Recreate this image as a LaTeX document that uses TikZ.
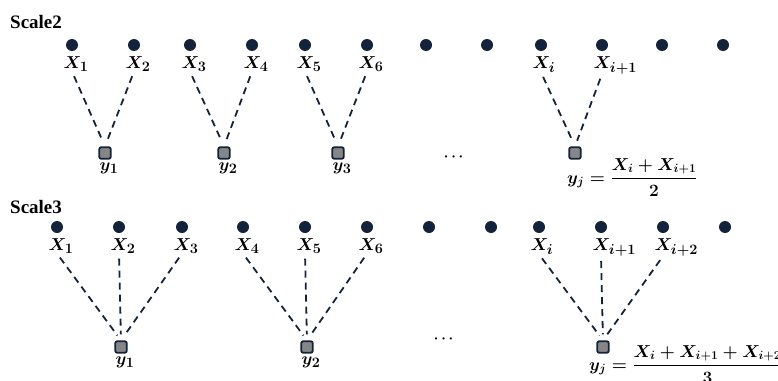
\documentclass[tikz,border=0pt]{standalone}
\usepackage{amsmath,mathtools}
\usepackage{fontspec}
\setmainfont{Liberation Serif}
\usetikzlibrary{positioning}
\DeclareMathSizes{18}{18}{13.5}{10}
\DeclareMathSizes{16}{16}{12}{9}
\definecolor{navy}{HTML}{13233C}
\tikzset{
	xdot/.style={circle, fill=navy, inner sep=0pt, minimum size=12pt},
	ybox/.style={rectangle, rounded corners=2pt, draw=navy, line width=1.8pt,
			fill=gray!95, inner sep=0pt, minimum size=11.5pt},
	conn/.style={draw=navy, line width=1.8pt, dash pattern=on 7pt off 5pt,
			shorten <=5pt, shorten >=6pt},
	xlab/.style={inner sep=0pt, font=\fontsize{18}{21}\selectfont\boldmath},
	flab/.style={inner sep=0pt, anchor=base west, font=\fontsize{16}{19}\selectfont\boldmath},
	scalelab/.style={inner sep=0pt, anchor=base west, font=\fontsize{19}{22}\selectfont\bfseries},
	gap/.style={inner sep=0pt, font=\fontsize{15}{18}\selectfont\boldmath}
}

\begin{document}
\begin{tikzpicture}[x=1pt,y=-1pt]
	\useasboundingbox (0,0) rectangle (778,380);

	% Scale2
	\node[scalelab] (s2) at (10,28) {Scale2};
	\foreach \x [count=\i] in {72,134,190,252,305,367,426,487,541,602,662,723}
		\node[xdot] (a\i) at (\x,45) {};
	\foreach \i/\s in {1/1,2/2,3/3,4/4,5/5,6/6,9/i,10/i+1}
		\node[xlab, anchor=north] (la\i) at ([yshift=-5pt]a\i.south) {$X_{\mathrlap{\s}}$};
	\foreach \x [count=\j] in {105,224,338,575}
		\node[ybox] (ya\j) at (\x,153) {};
	\foreach \j in {1,2,3}
		\node[xlab, anchor=north] (ly\j) at ([yshift=-3pt]ya\j.south) {$y_{\mathrlap{\j}}$};
	\foreach \i/\j in {1/1,2/1,3/2,4/2,5/3,6/3,9/4,10/4}
		\draw[conn] (la\i.south) -- (ya\j.north);
	\node[gap] (dotsa) at (455,157) {$\cdots$};
	\node[flab] (fa) at (567,183) {$y_j = \dfrac{X_i + X_{i+1}}{2}$};

	% Scale3
	\node[scalelab] (s3) at (10,213) {Scale3};
	\foreach \x [count=\i] in {57,119,182,243,305,367,429,491,539,601,663,725}
		\node[xdot] (b\i) at (\x,227) {};
	\foreach \i/\s in {1/1,2/2,3/3,4/4,5/5,6/6,9/i,10/i+1,11/i+2}
		\node[xlab, anchor=north] (lb\i) at ([yshift=-5pt]b\i.south) {$X_{\mathrlap{\s}}$};
	\foreach \x [count=\j] in {121,307,603}
		\node[ybox] (yb\j) at (\x,347) {};
	\foreach \j in {1,2}
		\node[xlab, anchor=north] (lz\j) at ([yshift=-3pt]yb\j.south) {$y_{\mathrlap{\j}}$};
	\foreach \i/\j in {1/1,2/1,3/1,4/2,5/2,6/2,9/3,10/3,11/3}
		\draw[conn] (lb\i.south) -- (yb\j.north);
	\node[gap] (dotsb) at (445,339) {$\cdots$};
	\node[flab] (fb) at (589,370) {$y_j = \dfrac{X_i + X_{i+1} + X_{i+2}}{3}$};
\end{tikzpicture}
\end{document}
